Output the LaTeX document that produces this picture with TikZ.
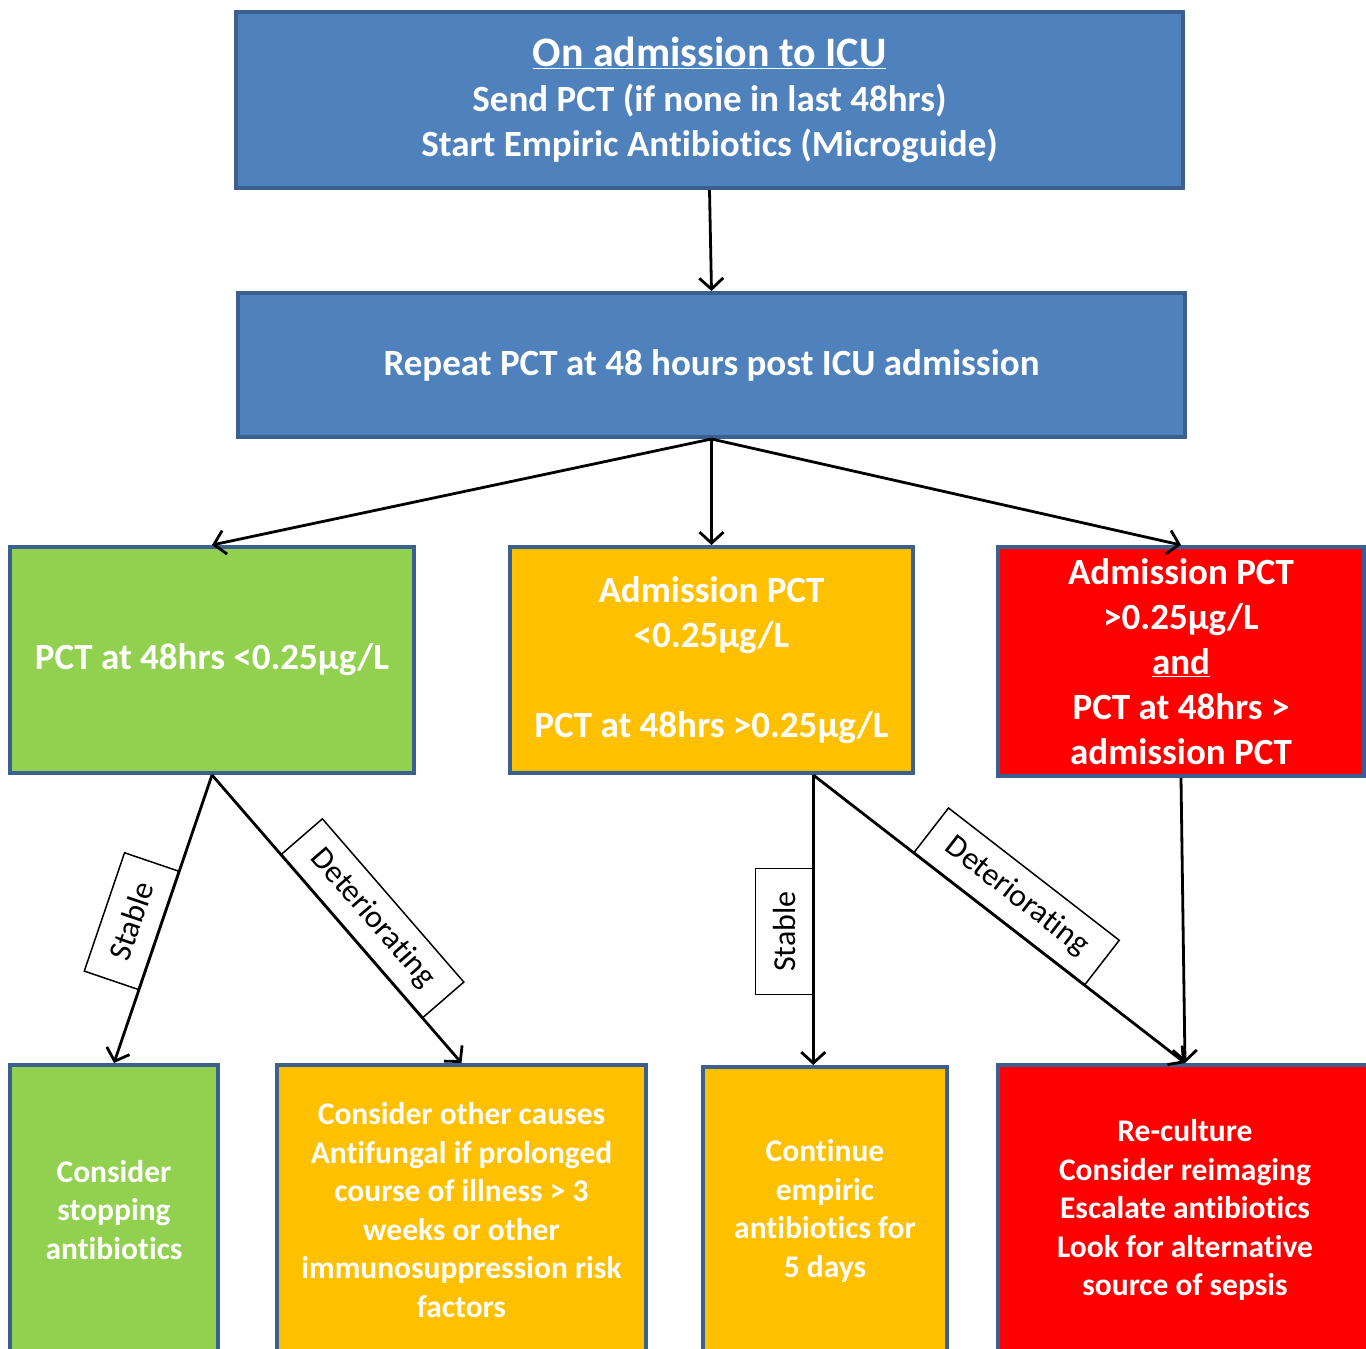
\documentclass[tikz,border=0pt]{standalone}
\usepackage{fontspec}
\setmainfont{Carlito}[Ligatures=NoCommon]
\usetikzlibrary{arrows.meta,calc}
\definecolor{bordc}{HTML}{3B5F8E}
\definecolor{bluef}{HTML}{4F81BD}
\definecolor{greenf}{HTML}{92D050}
\definecolor{orangef}{HTML}{FFC000}
\definecolor{redf}{HTML}{FF0000}
\begin{document}
\begin{tikzpicture}[x=1pt,y=-1pt,
  box/.style={draw=bordc, line width=4pt, inner sep=0pt, align=center, text=white},
  bigtxt/.style={font={\fontsize{37}{45}\selectfont\bfseries}},
  smalltxt/.style={font={\fontsize{31.5}{38.5}\selectfont\bfseries}},
  conn/.style={line width=2.8pt, -{Straight Barb[length=11pt,width=24pt,line width=2.8pt]}},
  lblbase/.style={draw, fill=white, line width=1.5pt, inner sep=0pt,
    font={\fontsize{32}{38}\selectfont}, text=black},
  lbl/.style={lblbase, sloped, anchor=south},
  lblv/.style={lblbase, rotate=90, anchor=south}]
\useasboundingbox (0,0) rectangle (1366,1349);
\clip (0,0) rectangle (1366,1349);

\node[box, bigtxt, fill=bluef, minimum width=947pt, minimum height=176pt] (top) at (709.5,100)
  {{\fontsize{42}{45}\selectfont\underline{On admission to ICU}}\\Send PCT (if none in last 48hrs)\\Start Empiric Antibiotics (Microguide)};
\node[box, bigtxt, fill=bluef, minimum width=947pt, minimum height=144pt] (rep) at (711.5,365)
  {Repeat PCT at 48 hours post ICU admission};

\node[box, bigtxt, fill=greenf, minimum width=404pt, minimum height=226pt] (g1) at (212,660)
  {PCT at 48hrs <0.25µg/L};
\node[box, bigtxt, fill=orangef, minimum width=403pt, minimum height=226pt] (o1) at (711.5,660)
  {Admission PCT\\<0.25µg/L\\[45pt]PCT at 48hrs >0.25µg/L};
\node[box, bigtxt, fill=redf, minimum width=366pt, minimum height=229pt] (r1) at (1181,661.5)
  {Admission PCT\\>0.25µg/L\\\underline{and}\\PCT at 48hrs >\\admission PCT};

\node[box, smalltxt, fill=greenf, minimum width=208pt, minimum height=290pt] (g2) at (114,1210)
  {Consider\\stopping\\antibiotics};
\node[box, smalltxt, fill=orangef, minimum width=369pt, minimum height=290pt] (o2) at (461.5,1210)
  {Consider other causes\\Antifungal if prolonged\\course of illness > 3\\weeks or other\\immunosuppression risk\\factors};
\node[box, smalltxt, fill=orangef, minimum width=244pt, minimum height=288pt] (o3) at (825,1211)
  {Continue\\empiric\\antibiotics for\\5 days};
\node[box, smalltxt, fill=redf, minimum width=374pt, minimum height=290pt] (r2) at (1185,1210)
  {Re-culture\\Consider reimaging\\Escalate antibiotics\\Look for alternative\\source of sepsis};

\coordinate (os) at ($(o1.south east)!0.25!(o1.south west)$);

\draw[conn] (top.south) -- (rep.north);
\draw[conn] (rep.south) -- (g1.north);
\draw[conn] (rep.south) -- (o1.north);
\draw[conn] (rep.south) -- (r1.north);

\draw[conn] (g1.south) -- node[lbl, pos=0.54, minimum width=125pt, minimum height=57pt] {Stable} (g2.north);
\draw[conn] (g1.south) -- node[lbl, pos=0.56, minimum width=216pt, minimum height=54pt] {Deteriorating} (o2.north);
\draw[conn] (os) -- node[lblv, pos=0.54, minimum width=126pt, minimum height=57pt] {Stable} (os |- o3.north);
\draw[conn] (os) -- node[lbl, pos=0.5, minimum width=216pt, minimum height=56pt] {Deteriorating} (r2.north);
\draw[conn] (r1.south) -- (r2.north);
\end{tikzpicture}
\end{document}
